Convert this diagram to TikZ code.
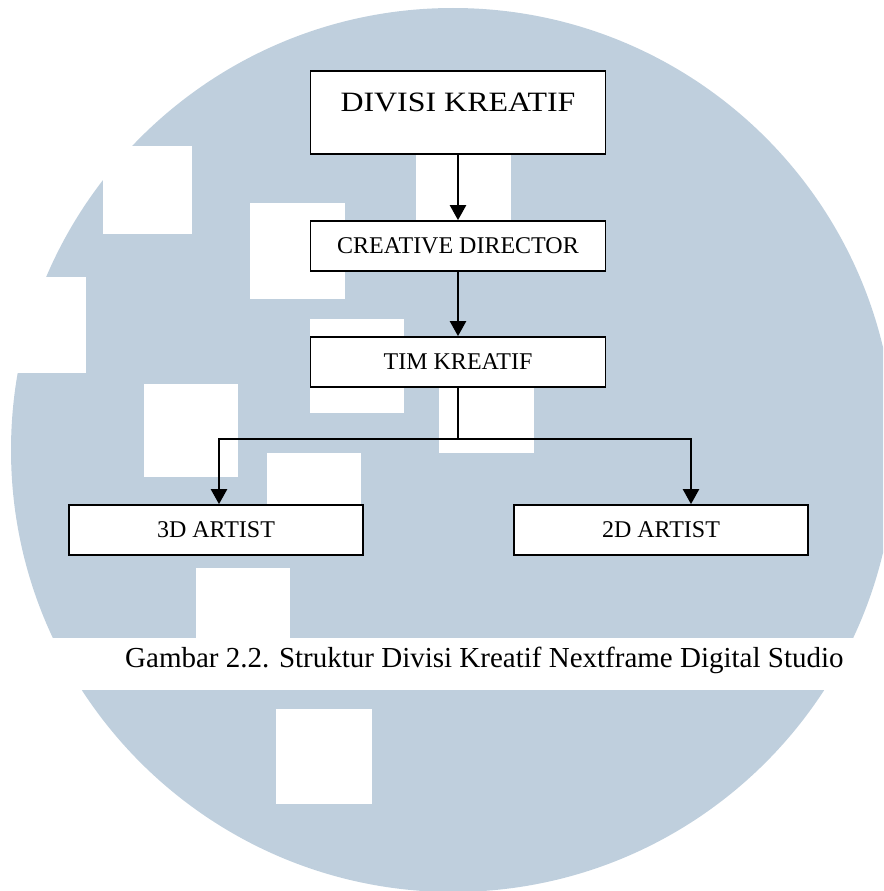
\documentclass[tikz,border=0pt]{standalone}
\usepackage{fontspec}
\setmainfont{Liberation Serif}
\usetikzlibrary{arrows.meta}
\definecolor{watermark}{RGB}{191,207,221}

\begin{document}
\begin{tikzpicture}[x=1pt, y=-1pt,
		box/.style={draw, line width=1.7pt, fill=white, minimum width=295pt, minimum height=50pt, inner sep=0pt, font=\fontsize{24}{28}\selectfont},
		link/.style={-{Triangle[width=16pt,length=15pt]}, line width=2.3pt}]
		%%%%% START %%%%%
		
		\useasboundingbox (0,0) rectangle (883,891);
		
		\begin{scope}
			\clip (0,0) rectangle (883,891);
			\fill[watermark] (453,450) circle [radius=442pt];
		\end{scope}
		
		\fill[white] (103,146) rectangle (192,234);
		\fill[white] (250,203) rectangle (345,299);
		\fill[white] (0,277) rectangle (86,373);
		\fill[white] (416,125) rectangle (511,220);
		\fill[white] (310,319) rectangle (404,413);
		\fill[white] (144,384) rectangle (238,477);
		\fill[white] (439,358) rectangle (534,453);
		\fill[white] (267,453) rectangle (361,548);
		\fill[white] (196,568) rectangle (290,662);
		\fill[white] (276,709) rectangle (372,804);
		
		\fill[white] (0,638) rectangle (883,690);
		
		\node[box, minimum height=83pt, text height=40pt, text depth=43pt, font=\fontsize{28}{32}\selectfont] (divisi) at (458,112.5) {\scalebox{1.14}[1]{DIVISI KREATIF}};
		\node[box] (creative) at (458,246) {CREATIVE DIRECTOR};
		\node[box] (tim) at (458,362) {TIM KREATIF};
		\node[box, minimum width=294pt] (art3d) at (216,530) {3D ARTIST};
		\node[box, minimum width=294pt] (art2d) at (661,530) {2D ARTIST};
		
		\coordinate (split) at (458,439);
		
		\draw[link] (divisi) -- (creative);
		\draw[link] (creative) -- (tim);
		\draw[line width=2.3pt] (tim) -- (split);
		\draw[link] (split) -| ([xshift=3pt]art3d.north);
		\draw[link] (split) -| ([xshift=30pt]art2d.north);
		
		\node[anchor=base west, inner sep=0pt, font=\fontsize{29}{34}\selectfont] (caption) at (125,667) {Gambar 2.2. Struktur Divisi Kreatif Nextframe Digital Studio};
		
		%%%%% END %%%%%
	\end{tikzpicture}
\end{document}
